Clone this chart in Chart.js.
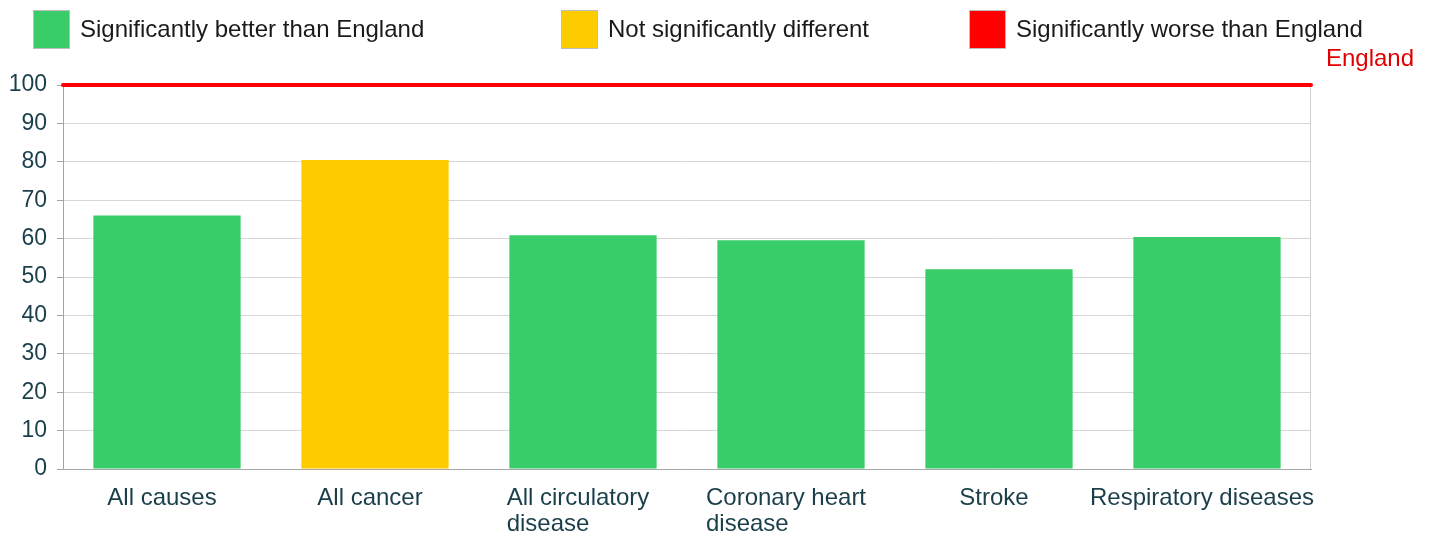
<!DOCTYPE html>
<html>
<head>
<meta charset="utf-8">
<script src="https://cdn.jsdelivr.net/npm/chart.js@4.4.0/dist/chart.umd.min.js"></script>
<style>
  html, body { margin: 0; padding: 0; background: #ffffff; }
  #wrap { position: relative; width: 1429px; height: 534px; }
</style>
</head>
<body>
<div id="wrap"><canvas id="c" width="1429" height="534"></canvas></div>
<script>
// ---- data ----
const categories = ['All causes', 'All cancer', ['All circulatory', 'disease'], ['Coronary heart', 'disease'], 'Stroke', 'Respiratory diseases'];
const values = [66.0, 80.5, 60.9, 59.6, 52.0, 60.4];
const significance = ['better', 'similar', 'better', 'better', 'better', 'better'];
const legendLabels = ['Significantly better than England', 'Not significantly different', 'Significantly worse than England'];
const legendKeys = ['better', 'similar', 'worse'];
const englandValue = 100;
const englandLabel = 'England';
const yMin = 0, yMax = 100, yStep = 10;

// ---- styles ----
const colorFor = { better: '#38cd68', similar: '#ffcc00', worse: '#ff0000' };
const FONT = '"Liberation Sans", Arial, sans-serif';
const legendX = [33, 561, 969];
const labelShift = -5;

const overlay = {
  id: 'overlay',
  afterDraw(chart) {
    const ctx = chart.ctx;
    const area = chart.chartArea;
    const y = chart.scales.y;
    const x = chart.scales.x;
    ctx.save();
    // right border
    ctx.strokeStyle = '#cfcfcf';
    ctx.lineWidth = 1;
    ctx.beginPath();
    ctx.moveTo(Math.round(area.right) - 0.5, area.top);
    ctx.lineTo(Math.round(area.right) - 0.5, area.bottom);
    ctx.stroke();
    // England line
    const ey = y.getPixelForValue(englandValue);
    ctx.strokeStyle = '#ff0000';
    ctx.lineWidth = 4;
    ctx.lineCap = 'round';
    ctx.beginPath();
    ctx.moveTo(area.left, ey);
    ctx.lineTo(area.right, ey);
    ctx.stroke();
    // England label
    ctx.fillStyle = '#e00000';
    ctx.font = '24px ' + FONT;
    ctx.textAlign = 'right';
    ctx.textBaseline = 'middle';
    ctx.fillText(englandLabel, chart.width - 15, ey - 26);
    // x labels (block centered, lines left-aligned)
    ctx.fillStyle = '#1b3f4a';
    ctx.textAlign = 'left';
    ctx.textBaseline = 'alphabetic';
    categories.forEach((lab, i) => {
      const lines = Array.isArray(lab) ? lab : [lab];
      const cx = x.getPixelForValue(i) + labelShift;
      const w = Math.max(...lines.map(l => ctx.measureText(l).width));
      lines.forEach((l, j) => {
        ctx.fillText(l, cx - w / 2, area.bottom + 36 + j * 26);
      });
    });
    // legend
    ctx.font = '24px ' + FONT;
    ctx.textBaseline = 'middle';
    legendLabels.forEach((lab, i) => {
      const bx = legendX[i];
      ctx.fillStyle = colorFor[legendKeys[i]];
      ctx.fillRect(bx, 11, 36, 38);
      ctx.strokeStyle = '#bdbdbd';
      ctx.lineWidth = 1;
      ctx.strokeRect(bx + 0.5, 10.5, 36, 38);
      ctx.fillStyle = '#1a1a1a';
      ctx.fillText(lab, bx + 47, 30);
    });
    ctx.restore();
  }
};

new Chart(document.getElementById('c'), {
  type: 'bar',
  data: {
    labels: categories,
    datasets: [{
      data: values,
      backgroundColor: significance.map(s => colorFor[s]),
      borderWidth: 0,
      categoryPercentage: 1.0,
      barPercentage: 0.708
    }]
  },
  options: {
    responsive: false,
    animation: false,
    devicePixelRatio: 1,
    layout: { padding: { top: 85, right: 118, left: 0, bottom: 0 } },
    plugins: { legend: { display: false }, tooltip: { enabled: false } },
    scales: {
      x: {
        grid: { display: false },
        border: { display: true, color: '#a6a6a6', width: 1 },
        ticks: { display: false },
        afterFit(s) { s.height = 65; }
      },
      y: {
        min: yMin, max: yMax,
        ticks: { stepSize: yStep, color: '#1b3f4a', font: { size: 23, family: FONT }, padding: 10 },
        grid: { color: '#d6d6d6', tickColor: '#a6a6a6', tickLength: 6, lineWidth: 1 },
        border: { display: true, color: '#a6a6a6', width: 1 },
        afterFit(s) { s.width = 63; }
      }
    }
  },
  plugins: [overlay]
});
</script>
</body>
</html>
